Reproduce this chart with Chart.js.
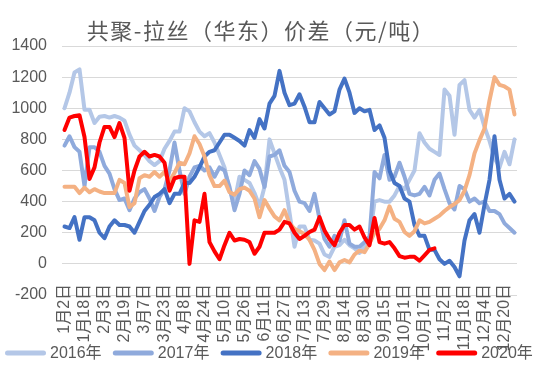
<!DOCTYPE html>
<html>
<head>
<meta charset="utf-8">
<script src="https://cdn.jsdelivr.net/npm/chart.js@4.4.1/dist/chart.umd.min.js"></script>
<style>
  html, body { margin: 0; padding: 0; background: #fff; }
  canvas { display: block; }
</style>
</head>
<body>
<canvas id="spread" width="540" height="367"></canvas>
<script>
const chartTitle = '共聚-拉丝（华东）价差（元/吨）';
const seriesNames = ['2016年', '2017年', '2018年', '2019年', '2020年'];
const seriesColors = ['#B4C7E7', '#8FAADC', '#4472C4', '#F4B183', '#FF0000'];

// dates shown on the axis (every 16 days)
const tickDates = ['1月2日', '1月18日', '2月3日', '2月19日', '3月7日', '3月23日', '4月8日', '4月24日',
  '5月10日', '5月26日', '6月11日', '6月27日', '7月13日', '7月29日', '8月14日', '8月30日',
  '9月15日', '10月1日', '10月17日', '11月2日', '11月18日', '12月4日', '12月20日'];

// one value every 4 days, starting 1月2日
const v2016 = [1000, 1100, 1230, 1250, 990, 990, 905, 945, 950, 940, 950, 940, 920, 830, 760, 730,
  700, 660, 635, 660, 740, 790, 850, 850, 1000, 980, 910, 850, 820, 840, 780, 700, 620, 470, 400,
  560, 540, 520, 455, 370, 495, 800, 710, 620, 540, 330, 110, 240, 240, 155, 150, 130, 60, 45, 110,
  120, 155, 120, 100, 70, 110, 155, 400, 410, 400, 400, 440, 500, 480, 540, 600, 840, 780, 740, 720,
  700, 1120, 1080, 830, 1150, 1180, 990, 940, 990, 880, 790, 680, 620, 720, 640, 800];
const v2017 = [760, 820, 750, 720, 500, 750, 750, 720, 630, 580, 480, 410, 420, 345, 420, 460,
  480, 420, 340, 430, 480, 600, 780, 600, 450, 560, 620, 630, 600, 620, 560, 620, 600, 495, 345,
  450, 600, 570, 660, 610, 495, 690, 700, 730, 630, 590, 470, 400, 390, 340, 450, 290, 160, 110, 180,
  150, 280, 130, 110, 110, 140, 175, 590, 550, 700, 540, 560, 650, 560, 450, 440, 450, 495, 440, 540,
  580, 480, 390, 350, 500, 480, 400, 420, 390, 400, 340, 340, 320, 260, 230, 200];
const v2018 = [240, 230, 300, 155, 300, 300, 280, 200, 165, 240, 280, 250, 250, 240, 200, 270,
  340, 380, 430, 450, 480, 390, 450, 450, 520, 520, 560, 620, 690, 720, 730, 780, 830, 830, 810,
  790, 760, 860, 810, 930, 870, 1030, 1080, 1240, 1100, 1020, 1030, 1090, 1010, 910, 910, 1040, 1000, 960, 980,
  1120, 1190, 1100, 970, 1000, 980, 990, 860, 890, 810, 600, 520, 500, 420, 400, 250, 180, 180, 90, 90,
  30, 0, 20, -20, -80, 150, 280, 320, 200, 380, 540, 820, 540, 420, 450, 400];
const v2019 = [495, 495, 495, 455, 490, 460, 480, 465, 455, 455, 455, 540, 520, 365, 390, 550,
  570, 560, 590, 560, 590, 530, 585, 650, 640, 710, 820, 770, 690, 570, 500, 500, 535, 460, 445,
  480, 490, 470, 420, 300, 410, 355, 305, 280, 345, 260, 225, 210, 190, 155, 90, 0, -40, 15, -40,
  10, 25, 10, 60, 85, 75, 130, 200, 225, 280, 370, 290, 270, 205, 180, 210, 280, 260, 270, 290,
  310, 340, 365, 385, 410, 470, 570, 710, 795, 870, 1050, 1200, 1150, 1140, 1120, 960];
const v2020 = [860, 940, 950, 955, 815, 545, 620, 780, 880, 880, 815, 905, 810, 470, 600, 690,
  720, 690, 700, 690, 650, 470, 550, 560, 560, 0, 280, 270, 450, 140, 80, 30, 120, 200, 150,
  160, 155, 140, 65, 110, 200, 200, 200, 220, 270, 260, 200, 160, 180, 205, 220, 300, 215, 160, 120,
  200, 250, 250, 220, 240, 170, 120, 295, 140, 130, 140, 100, 50, 40, 45, 45, 20, 55, 90, 100];

// category list: every 4th day of the year from 1月2日
const monthDays = [31, 28, 31, 30, 31, 30, 31, 31, 30, 31, 30, 31];
const categories = [];
let month = 0, day = 2;
for (let i = 0; i < v2016.length; i++) {
    categories.push((month + 1) + '月' + day + '日');
    day += 4;
    while (day > monthDays[month]) { day -= monthDays[month]; month++; }
}

const allSeries = [v2016, v2017, v2018, v2019, v2020];
const textColor = '#595959';
const baseFont = '"Liberation Sans", "Noto Sans CJK SC", sans-serif';

// TITLE
const titlePlugin = {
    id: 'chartTitle',
    afterDraw(chart) {
        const ctx = chart.ctx;
        ctx.save();
        ctx.font = '22px "Noto Sans CJK SC", sans-serif';
        ctx.letterSpacing = '1.5px';
        ctx.fillStyle = textColor;
        ctx.textAlign = 'center';
        ctx.textBaseline = 'middle';
        ctx.fillText(chartTitle, 261, 31);
        ctx.restore();
    }
};

// LEGEND (line samples along the bottom)
const legendPlugin = {
    id: 'bottomLegend',
    afterDraw(chart) {
        const ctx = chart.ctx;
        ctx.save();
        ctx.font = '16px ' + baseFont;
        ctx.textBaseline = 'middle';
        chart.data.datasets.forEach((ds, i) => {
            const x = 5 + i * 107.8;
            const y = 353;
            ctx.strokeStyle = ds.borderColor;
            ctx.lineWidth = 5;
            ctx.lineCap = 'round';
            ctx.beginPath();
            ctx.moveTo(x + 2.5, y);
            ctx.lineTo(x + 38.5, y);
            ctx.stroke();
            ctx.fillStyle = textColor;
            ctx.fillText(ds.label, x + 45, y + 1);
        });
        ctx.restore();
    }
};

const lineData = {
    labels: categories,
    datasets: seriesNames.map((name, i) => ({
        label: name,
        data: allSeries[i],
        borderColor: seriesColors[i],
        backgroundColor: seriesColors[i],
        borderWidth: 4,
        borderJoinStyle: 'round',
        borderCapStyle: 'round',
        pointRadius: 0,
        tension: 0,
        fill: false,
        order: seriesNames.length - i
    }))
};

const config = {
    type: 'line',
    data: lineData,
    options: {
        responsive: false,
        animation: false,
        devicePixelRatio: 1,
        layout: { padding: { top: 46, right: 23, bottom: 72, left: 0 } },
        plugins: {
            legend: { display: false },
            title: { display: false },
            tooltip: { enabled: false }
        },
        scales: {
            x: {
                position: { y: 0 },
                offset: true,
                grid: { display: false },
                border: { display: false },
                ticks: {
                    autoSkip: false,
                    maxRotation: 90,
                    minRotation: 90,
                    padding: 12,
                    color: textColor,
                    font: { size: 16, family: baseFont },
                    callback: function (value, index) {
                        const lab = categories[index];
                        return tickDates.includes(lab) ? lab : null;
                    }
                }
            },
            y: {
                min: -200,
                max: 1400,
                afterFit(scale) { scale.width = 62; },
                grid: { color: '#D9D9D9', lineWidth: 1, drawTicks: false },
                border: { display: false },
                ticks: {
                    stepSize: 200,
                    padding: 15,
                    color: textColor,
                    font: { size: 16, family: baseFont },
                    callback: value => String(value)
                }
            }
        }
    },
    plugins: [titlePlugin, legendPlugin]
};

// RENDER LINE CHART
const spreadChart = new Chart(document.getElementById('spread'), config);
</script>
</body>
</html>
